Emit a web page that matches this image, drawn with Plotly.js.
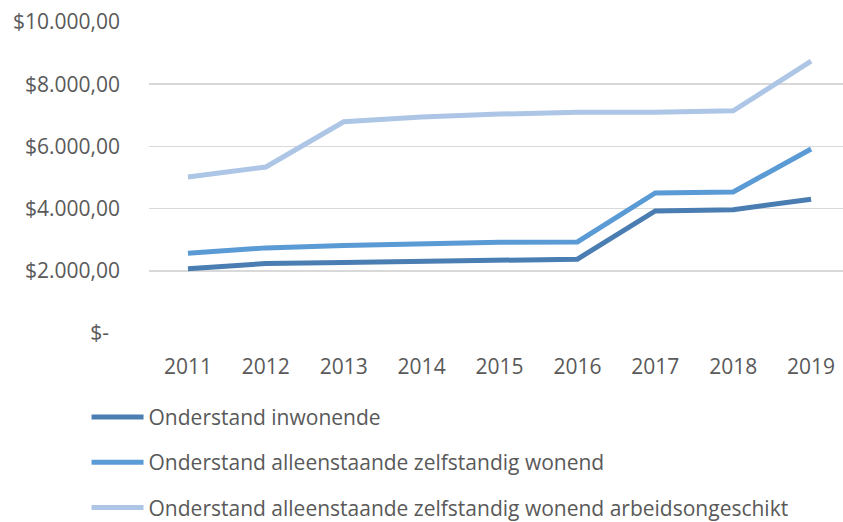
<!DOCTYPE html>
<html><head><meta charset="utf-8">
<script src="https://cdn.plot.ly/plotly-3.0.1.min.js"></script>
<style>html,body{margin:0;padding:0;background:#fff}#chart{width:843px;height:522px}</style>
</head><body><div id="chart"></div>
<script>
const years = ['2011','2012','2013','2014','2015','2016','2017','2018','2019'];
const inwonende = [2063, 2234, 2266, 2298, 2340, 2375, 3925, 3967, 4300];
const alleenstaande = [2567, 2737, 2811, 2876, 2920, 2930, 4502, 4535, 5915];
const arbeidsongeschikt = [5016, 5337, 6791, 6942, 7038, 7100, 7100, 7144, 8739];
const seriesNames = ['Onderstand inwonende','Onderstand alleenstaande zelfstandig wonend','Onderstand alleenstaande zelfstandig wonend arbeidsongeschikt'];
const colors = ['#4a7db1','#5b9bd5','#adc6e6'];
const yTickVals = [0,2000,4000,6000,8000,10000];
const yTickText = ['$-\u00a0\u00a0','$2.000,00','$4.000,00','$6.000,00','$8.000,00','$10.000,00'];

const font = '"Open Sans", "Liberation Sans", sans-serif';
const data = [inwonende, alleenstaande, arbeidsongeschikt].map((v,i)=>({
  type:'scatter', mode:'lines', x:years, y:v, name:seriesNames[i],
  legendgroup:'g'+i,
  line:{color:colors[i], width:5}
}));
const layout = {
  width:843, height:522,
  margin:{l:149, r:0, t:22, b:188.7, autoexpand:false},
  paper_bgcolor:'#fff', plot_bgcolor:'#fff',
  font:{family:font, color:'#595959', size:20},
  showlegend:true,
  legend:{orientation:'v', x:-0.09, xanchor:'left', y:-0.205, yanchor:'top',
    font:{size:21, color:'#595959'}, tracegroupgap:15, itemwidth:52, bgcolor:'rgba(0,0,0,0)'},
  xaxis:{type:'category', range:[-0.5, 8.41], showgrid:false, zeroline:false, automargin:false,
    showline:false, ticks:'', ticklabelstandoff:19, tickfont:{size:21, color:'#595959'}},
  yaxis:{range:[0,10000], tickvals:yTickVals, ticktext:yTickText, showgrid:true, automargin:false,
    gridcolor:'#d9d9d9', gridwidth:1.5, zeroline:false, showline:false, ticks:'',
    ticklabelstandoff:28, tickfont:{size:21, color:'#595959'}}
};
Plotly.newPlot('chart', data, layout, {displayModeBar:false, staticPlot:true});
</script></body></html>
